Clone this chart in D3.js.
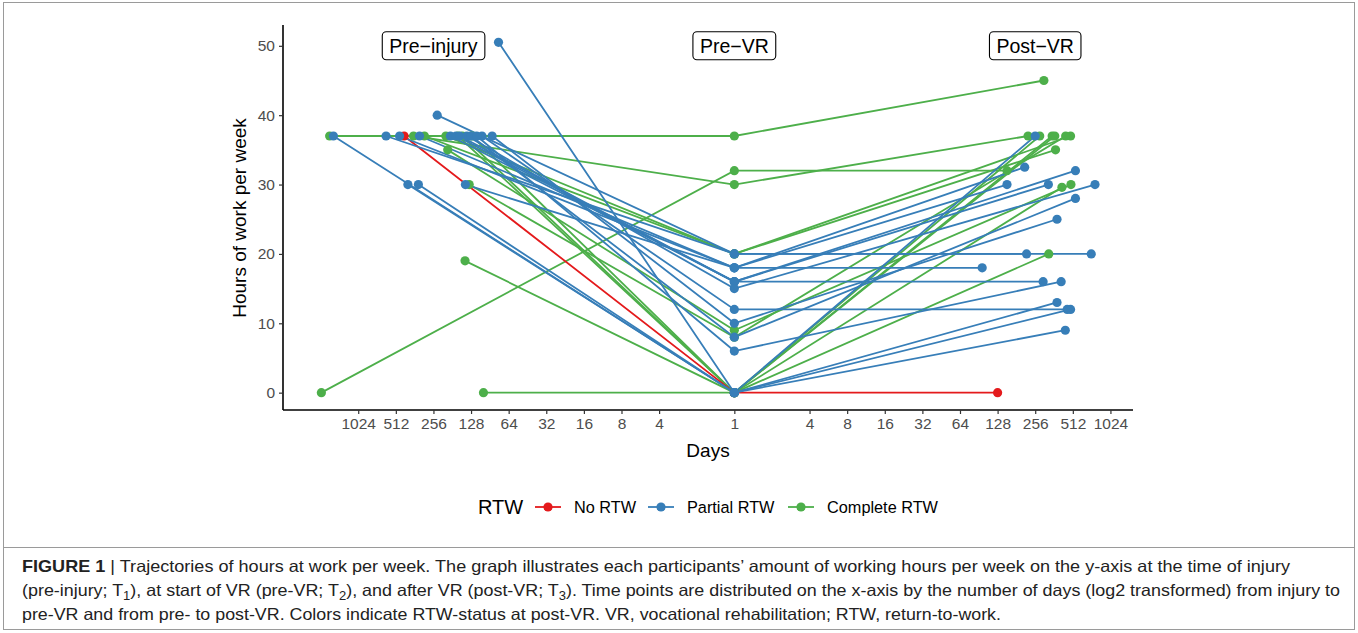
<!DOCTYPE html>
<html><head><meta charset="utf-8">
<script src="https://cdn.jsdelivr.net/npm/d3@7"></script>
<style>
html,body{margin:0;padding:0;background:#fff;}
svg{display:block;font-family:"Liberation Sans",Arial,Helvetica,sans-serif;}
</style></head>
<body><svg id="chart" width="1358" height="633"></svg>
<script>
// ---- data ----
// RTW status at post-VR for each participant
const groups = ["Complete","Complete","Complete","Complete","Complete","Complete","Complete","Complete","Complete","Complete","Complete","Complete",
  "No",
  "Partial","Partial","Partial","Partial","Partial","Partial","Partial","Partial","Partial","Partial","Partial","Partial","Partial","Partial","Partial","Partial","Partial"];
// log2(days) from injury to pre-VR
const t1Log2Days = [10.76,10.98,8.53,7.16,6.67,8.24,7.67,7.62,7.23,6.98,7.05,7.35,
  8.78,
  10.66,6.27,8.68,8.40,7.90,9.26,8.90,7.15,8.37,7.55,7.40,7.30,7.11,6.71,6.44,7.00,6.85];
// hours per week pre-injury (T1)
const t1Hours = [37,0,37,19,0,37,37,35,37,37,30,37,
  37,
  37,50.5,30,30,40,37,37,30,37,37,37,37,37,37,37,37,37];
// hours per week at pre-VR (T2)
const t2Hours = [37,32,30,0,0,20,20,9,0,0,8,0,
  0,
  0,0,0,0,20,20,18,18,18,16,16,16,15,12,10,8,6];
// log2(days) from pre-VR to post-VR
const t3Log2Days = [8.23,7.25,7.81,8.36,8.71,8.54,8.94,8.95,8.12,8.45,8.81,8.52,
  7.00,
  8.00,8.58,8.94,8.80,9.49,7.77,6.59,7.25,7.72,8.21,8.35,9.07,9.59,8.85,8.58,9.07,8.69];
// hours per week at post-VR (T3)
const t3Hours = [45,32,37,20,29.6,35,37,30,37,37,37,37,
  0,
  37,13,12,9,20,20,18,30,32.5,16,30,32,30,12,25,28,16];

const xTicks = [-10,-9,-8,-7,-6,-5,-4,-3,-2,0,2,3,4,5,6,7,8,9,10];
const yTicks = [0,10,20,30,40,50];
const phaseLabels = ["Pre\u2212injury","Pre\u2212VR","Post\u2212VR"];
const phaseX = [-8,0,8];
const legendKeys = ["No","Partial","Complete"];
const legendNames = ["No RTW","Partial RTW","Complete RTW"];
const colors = {No:"#E41A1C",Partial:"#377EB8",Complete:"#4DAF4A"};

// ---- build ----
const svg = d3.select("#chart");
const x = d3.scaleLinear().domain([-12.0,10.6]).range([283,1133]);
const y = d3.scaleLinear().domain([-2.5,53]).range([410,25]);

// frame
svg.append("rect").attr("x",3.5).attr("y",2.5).attr("width",1351).attr("height",627)
  .attr("fill","none").attr("stroke","#9a9a9a").attr("stroke-width",1);
svg.append("line").attr("x1",3.5).attr("x2",1354.5).attr("y1",547.5).attr("y2",547.5)
  .attr("stroke","#9a9a9a").attr("stroke-width",1);

const parts = groups.map((g,i)=>({g,pts:[[-t1Log2Days[i],t1Hours[i]],[0,t2Hours[i]],[t3Log2Days[i],t3Hours[i]]]}));

const line = d3.line().x(d=>x(d[0])).y(d=>y(d[1]));
const plot = svg.append("g");
parts.forEach(p=>{
  plot.append("path").attr("d",line(p.pts)).attr("fill","none")
    .attr("stroke",colors[p.g]).attr("stroke-width",1.8);
});
parts.forEach(p=>{
  p.pts.forEach(d=>{
    plot.append("circle").attr("cx",x(d[0])).attr("cy",y(d[1])).attr("r",4.6)
      .attr("fill",colors[p.g]);
  });
});

// axes
const fmt = v => v===0 ? "1" : String(Math.pow(2,Math.abs(v)));
const xAxis = svg.append("g").attr("transform","translate(0,410)")
  .call(d3.axisBottom(x).tickValues(xTicks).tickFormat(fmt).tickSize(4).tickPadding(4).tickSizeOuter(0));
const yAxis = svg.append("g").attr("transform","translate(283,0)")
  .call(d3.axisLeft(y).tickValues(yTicks).tickSize(4).tickPadding(4).tickSizeOuter(0));
[xAxis,yAxis].forEach(a=>{
  a.select(".domain").attr("stroke","#000").attr("stroke-width",1.6);
  a.selectAll(".tick line").attr("stroke","#333").attr("stroke-width",1.2);
  a.selectAll(".tick text").attr("fill","#4d4d4d").attr("font-size",15.5)
    .attr("font-family","'Liberation Sans',Arial,sans-serif");
});
xAxis.select(".domain").attr("d","M283,0H1133");
yAxis.select(".domain").attr("d","M0,25V410");

// axis titles
svg.append("text").attr("x",708).attr("y",457).attr("text-anchor","middle")
  .attr("font-size",19).attr("fill","#000").text("Days");
svg.append("text").attr("transform","translate(246,218) rotate(-90)").attr("text-anchor","middle")
  .attr("font-size",19).attr("fill","#000").text("Hours of work per week");

// phase labels
phaseLabels.forEach((t,i)=>{
  const g = svg.append("g");
  const tx = g.append("text").attr("x",x(phaseX[i])).attr("y",y(50)+7).attr("text-anchor","middle")
    .attr("font-size",19.5).attr("fill","#000").text(t);
  const bb = tx.node().getBBox();
  g.insert("rect","text").attr("x",bb.x-7).attr("y",y(50)-14).attr("width",bb.width+14).attr("height",28)
    .attr("rx",4).attr("fill","#fff").attr("stroke","#000").attr("stroke-width",1.1);
});

// legend
const lg = svg.append("g");
lg.append("text").attr("x",478).attr("y",514).attr("font-size",20).attr("fill","#000").text("RTW");
const legX = [548,661,801];
legendKeys.forEach((k,i)=>{
  lg.append("line").attr("x1",legX[i]-13).attr("x2",legX[i]+13).attr("y1",507).attr("y2",507)
    .attr("stroke",colors[k]).attr("stroke-width",1.8);
  lg.append("circle").attr("cx",legX[i]).attr("cy",507).attr("r",4.6).attr("fill",colors[k]);
  lg.append("text").attr("x",legX[i]+26).attr("y",513).attr("font-size",16.3).attr("fill","#000").text(legendNames[i]);
});

// caption
const cap = svg.append("g").attr("font-family","'Liberation Sans Narrow','Arial Narrow','Liberation Sans',sans-serif")
  .attr("font-size",16.5).attr("fill","#222");
const l1 = cap.append("text").attr("x",22).attr("y",572);
l1.append("tspan").attr("font-weight","bold").text("FIGURE 1");
l1.append("tspan").text(" | ");
l1.append("tspan").text("Trajectories of hours at work per week. The graph illustrates each participants\u2019 amount of working hours per week on the y-axis at the time of injury");
l1.attr("textLength",1268).attr("lengthAdjust","spacingAndGlyphs");
const l2 = cap.append("text").attr("x",22).attr("y",596);
l2.append("tspan").text("(pre-injury; T");
l2.append("tspan").attr("font-size",12).attr("dy",4).text("1");
l2.append("tspan").attr("dy",-4).text("), at start of VR (pre-VR; T");
l2.append("tspan").attr("font-size",12).attr("dy",4).text("2");
l2.append("tspan").attr("dy",-4).text("), and after VR (post-VR; T");
l2.append("tspan").attr("font-size",12).attr("dy",4).text("3");
l2.append("tspan").attr("dy",-4).text("). Time points are distributed on the x-axis by the number of days (log2 transformed) from injury to");
l2.attr("textLength",1318).attr("lengthAdjust","spacingAndGlyphs");
cap.append("text").attr("x",22).attr("y",620)
  .text("pre-VR and from pre- to post-VR. Colors indicate RTW-status at post-VR. VR, vocational rehabilitation; RTW, return-to-work.")
  .attr("textLength",979).attr("lengthAdjust","spacingAndGlyphs");
</script></body></html>
